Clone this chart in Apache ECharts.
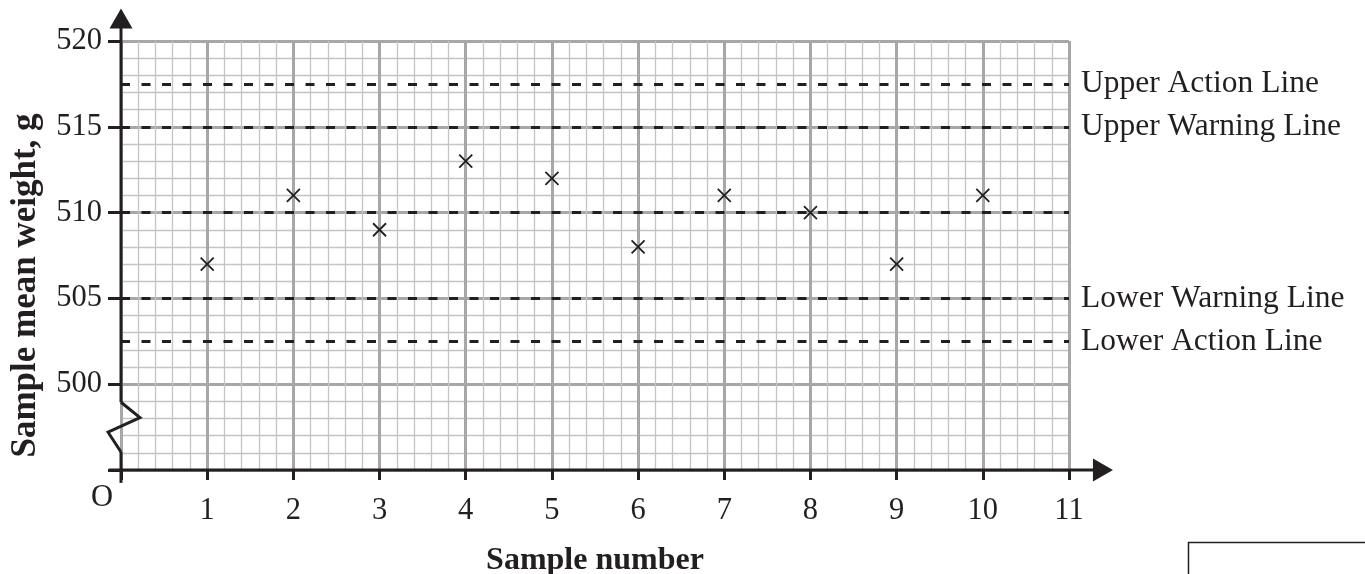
<!DOCTYPE html>
<html>
<head>
<meta charset="utf-8">
<script src="https://cdn.jsdelivr.net/npm/echarts@6/dist/echarts.min.js"></script>
<style>
html,body{margin:0;padding:0;background:#fff;}
#chart{width:1365px;height:574px;}
</style>
</head>
<body>
<div id="chart"></div>
<script>
// ---- data ----
const sampleNumbers = [1, 2, 3, 4, 5, 6, 7, 8, 9, 10];
const sampleMeans = [507, 511, 509, 513, 512, 508, 511, 510, 507, 511];
const controlLevels = [517.5, 515, 510, 505, 502.5];
const controlNames = ['Upper Action Line', 'Upper Warning Line', '', 'Lower Warning Line', 'Lower Action Line'];
const xRange = [0, 11];
const yRange = [495, 520];
// axis decorations (in data units): broken y axis with zigzag, x axis, arrow tips
const yAxisLower = [[0, 494.25], [0, 496.05]];
const yAxisZigzag = [[0, 496.05], [-0.15, 497.2], [0.22, 498.05], [0, 498.95]];
const yAxisUpper = [[0, 498.95], [0, 521.9]];
const xAxisLine = [[-0.14, 495], [11.51, 495]];

const INK = '#231f20';
const FONT = '"Liberation Serif", "Times New Roman", serif';

const chart = echarts.init(document.getElementById('chart'), null, {renderer: 'canvas'});

const option = {
  backgroundColor: '#ffffff',
  animation: false,
  grid: {left: 121, top: 41, width: 948, height: 429, outerBoundsMode: 'none', containLabel: false},
  xAxis: {
    type: 'value', min: xRange[0], max: xRange[1], interval: 1,
    name: 'Sample number', nameLocation: 'middle', nameGap: 75,
    nameTextStyle: {fontFamily: FONT, fontWeight: 'bold', fontSize: 32, color: INK},
    axisLine: {show: false},
    axisTick: {show: true, length: 10, inside: false, lineStyle: {color: INK, width: 3}},
    axisLabel: {
      fontFamily: FONT, fontSize: 30.5, color: INK, margin: 25,
      formatter: v => v === 0 ? '{o|O}' : String(v),
      rich: {o: {fontFamily: FONT, fontSize: 30.5, color: INK, lineHeight: 5, padding: [0, 38, 0, 0]}}
    },
    splitLine: {show: true, lineStyle: {color: '#a7a7a7', width: 3}},
    minorTick: {show: false, splitNumber: 5},
    minorSplitLine: {show: true, lineStyle: {color: '#c4c4c4', width: 1.3}}
  },
  yAxis: {
    type: 'value', min: yRange[0], max: yRange[1], interval: 5,
    name: 'Sample mean weight, g', nameLocation: 'middle', nameGap: 78,
    nameTextStyle: {fontFamily: FONT, fontWeight: 'bold', fontSize: 35, color: INK, padding: [0, 60, 0, 0]},
    axisLine: {show: false},
    axisTick: {show: true, length: 13, lineStyle: {color: INK, width: 3}},
    axisLabel: {
      fontFamily: FONT, fontSize: 30.5, color: INK, margin: 19,
      formatter: v => v === yRange[0] ? '' : String(v)
    },
    splitLine: {show: true, lineStyle: {color: '#a7a7a7', width: 3}},
    minorTick: {show: false, splitNumber: 5},
    minorSplitLine: {show: true, lineStyle: {color: '#c4c4c4', width: 1.3}}
  },
  series: [
    {
      name: 'controlLines', type: 'line', data: [], silent: true,
      markLine: {
        silent: true, symbol: 'none', animation: false,
        lineStyle: {color: INK, width: 3, type: [9, 11.5], opacity: 1},
        label: {show: true, position: 'end', distance: 12, formatter: '{b}', fontFamily: FONT, fontSize: 31.5, color: INK},
        data: controlLevels.map((v, i) => ({
          yAxis: v, name: controlNames[i],
          label: {show: controlNames[i] !== ''}
        }))
      }
    },
    {
      name: 'samples', type: 'scatter', clip: false,
      data: sampleNumbers.map((x, i) => [x, sampleMeans[i]]),
      symbol: 'path://M0,0L10,10M10,0L0,10', symbolSize: 13,
      itemStyle: {color: 'rgba(0,0,0,0)', borderColor: INK, borderWidth: 1.8, opacity: 1}, z: 7
    }
  ]
};
chart.setOption(option);

// axis lines, axis break and arrows, positioned through the chart's own scales
function px(p) { return chart.convertToPixel({gridIndex: 0}, p); }
const lineStyle = {stroke: INK, lineWidth: 3, fill: null, lineJoin: 'miter'};
const yTop = px(yAxisUpper[1]);
const xEnd = px(xAxisLine[1]);
const AL = 20, AW = 11.5;
const graphics = [
  {type: 'polyline', z: 100, shape: {points: yAxisLower.map(px)}, style: lineStyle},
  {type: 'polyline', z: 100, shape: {points: yAxisZigzag.map(px)}, style: lineStyle},
  {type: 'polyline', z: 100, shape: {points: [yAxisUpper[0], yAxisUpper[1]].map(px).map((p, i) => i === 1 ? [p[0], p[1] + AL - 2] : p)}, style: lineStyle},
  {type: 'polyline', z: 100, shape: {points: xAxisLine.map(px).map((p, i) => i === 1 ? [p[0] - AL + 2, p[1]] : p)}, style: lineStyle},
  {type: 'polygon', z: 101, shape: {points: [[yTop[0], yTop[1]], [yTop[0] - AW, yTop[1] + AL], [yTop[0] + AW, yTop[1] + AL]]}, style: {fill: INK}},
  {type: 'polygon', z: 101, shape: {points: [[xEnd[0], xEnd[1]], [xEnd[0] - AL, xEnd[1] - AW], [xEnd[0] - AL, xEnd[1] + AW]]}, style: {fill: INK}},
  {type: 'rect', left: 1186, top: 540, shape: {width: 200, height: 60},
   style: {fill: 'none', stroke: INK, lineWidth: 1.5}}
];
chart.setOption({graphic: graphics});
</script>
</body>
</html>
